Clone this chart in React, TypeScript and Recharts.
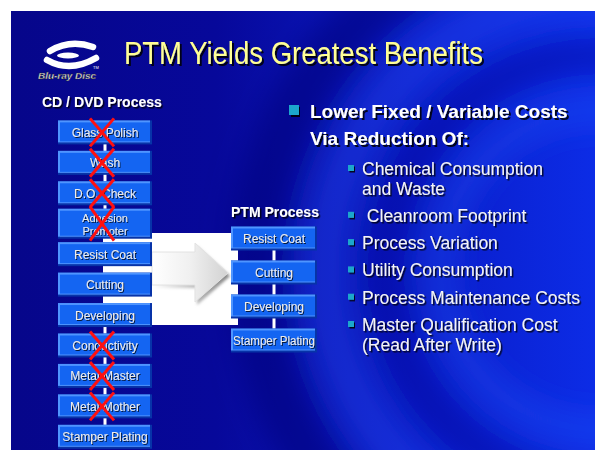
import React from 'react';
import { ScatterChart, Scatter, XAxis, YAxis } from 'recharts';

const W = 595;
const H = 450;

// process steps, top to bottom
const cdSteps = ['Glass Polish', 'Wash', 'D.O. Check', 'Adhesion\nPromoter', 'Resist Coat', 'Cutting', 'Developing', 'Conductivity', 'Metal Master', 'Metal Mother', 'Stamper Plating'];
const cdRemoved = [true, true, true, true, false, false, false, true, true, true, false];
const ptmSteps = ['Resist Coat', 'Cutting', 'Developing', 'Stamper Plating'];

const title = 'PTM Yields Greatest Benefits';
const columnTitles = ['CD / DVD Process', 'PTM Process'];
const mainPoint = ['Lower Fixed / Variable Costs', 'Via Reduction Of:'];
const reductions = ['Chemical Consumption\nand Waste', ' Cleanroom Footprint', 'Process Variation', 'Utility Consumption', 'Process Maintenance Costs', 'Master Qualification Cost\n(Read After Write)'];

const cdData = cdSteps.map((label, i) => ({ col: 0, step: i, label, removed: cdRemoved[i] }));
const ptmData = ptmSteps.map((label, i) => ({ col: 1, step: i, label, removed: false }));

const SANS = '"Liberation Sans", Arial, sans-serif';

const makeBox = (w: number) => (props: any) => {
  const { cx, cy, payload } = props;
  const lines: string[] = payload.label.split('\n');
  const two = lines.length > 1;
  const h = two ? 30 : 24;
  const x = cx - w / 2;
  const y = cy - h / 2;
  return (
    <g>
      <rect x={x} y={y} width={w} height={h} fill="#0733a8" />
      <rect x={x} y={y} width={w - 2} height={h - 2} fill="#4f95ff" />
      <rect x={x + 2} y={y + 2} width={w - 4} height={h - 5} fill="#1465f2" />
      {lines.map((ln, k) => {
        const ty = cy + (k - (lines.length - 1) / 2) * 12.8 + 0.5;
        return (
          <text key={k} x={cx} y={ty} dominantBaseline="central" textAnchor="middle" fontFamily={SANS} fontSize={two ? 11 : 12}
            fill="#ececec" filter="url(#boxShadow)" textLength={ln.length > 13 && w < 90 ? 82 : undefined} lengthAdjust="spacingAndGlyphs">
            {ln}
          </text>
        );
      })}
      {payload.removed && (
        <g stroke="#ff1010" strokeWidth={3}>
          <line x1={cx - 15} y1={y - 2} x2={cx + 9} y2={y + h + 2} />
          <line x1={cx + 9} y1={y - 2} x2={cx - 15} y2={y + h + 2} />
        </g>
      )}
    </g>
  );
};

const cdBox = makeBox(94);
const ptmBox = makeBox(86);

const arrowPts = '152,252 195,252 195,243 228,273 195,302 195,285 152,285';

const Slide = () => {
  // baselines for the reduction list
  let yy = 175;
  const rows: { text: string; y: number; bullet: boolean }[] = [];
  reductions.forEach((r) => {
    r.split('\n').forEach((ln, k) => {
      rows.push({ text: ln, y: yy + k * 19.5, bullet: k === 0 });
    });
    yy += (r.split('\n').length - 1) * 19.5 + 27.3;
  });

  return (
    <svg width={W} height={H} style={{ position: 'absolute', left: 0, top: 0 }}>
      <defs>
        <linearGradient id="bg" x1="0" x2="1" y1="0" y2="0">
          <stop offset="0" stopColor="#06068a" />
          <stop offset="0.35" stopColor="#07089a" />
          <stop offset="0.7" stopColor="#0a1cc8" />
          <stop offset="1" stopColor="#0c2ce6" />
        </linearGradient>
        <linearGradient id="arrowFill" x1="0" x2="1" y1="0" y2="0">
          <stop offset="0" stopColor="#ffffff" />
          <stop offset="0.5" stopColor="#f0f0f0" />
          <stop offset="1" stopColor="#d2d2d2" />
        </linearGradient>
        <linearGradient id="arrowShadow" x1="0" x2="1" y1="0" y2="0">
          <stop offset="0" stopColor="#ffffff" />
          <stop offset="1" stopColor="#808080" />
        </linearGradient>
        <filter id="soft" x="-50%" y="-50%" width="200%" height="200%">
          <feGaussianBlur stdDeviation="14" />
        </filter>
        <filter id="blur2">
          <feGaussianBlur stdDeviation="1.8" />
        </filter>
        <filter id="textShadow" x="-5%" y="-20%" width="115%" height="150%">
          <feDropShadow dx="2" dy="2" stdDeviation="0.3" floodColor="#000" floodOpacity="0.85" />
        </filter>
        <filter id="smallShadow" x="-5%" y="-20%" width="115%" height="150%">
          <feDropShadow dx="1.5" dy="1.5" stdDeviation="0.2" floodColor="#000" floodOpacity="0.85" />
        </filter>
        <clipPath id="slideClip">
          <rect x={11} y={11} width={584} height={439} />
        </clipPath>
      </defs>

      <rect x={0} y={0} width={W} height={H} fill="#fff" />
      <g clipPath="url(#slideClip)">
        <rect x={11} y={11} width={584} height={439} fill="url(#bg)" />
        <g filter="url(#soft)" fill="none">
          <circle cx={600} cy={270} r={345} stroke="#05057a" strokeWidth={55} opacity={0.55} />
          <circle cx={600} cy={270} r={275} stroke="#2a55ff" strokeWidth={45} opacity={0.35} />
          <circle cx={600} cy={270} r={215} stroke="#050a90" strokeWidth={35} opacity={0.4} />
          <circle cx={600} cy={270} r={160} stroke="#2a60ff" strokeWidth={30} opacity={0.3} />
        </g>
      </g>

      {/* logo */}
      <g>
        <path d="M50 51 Q70 39 93 47" stroke="#fff" strokeWidth={6.5} fill="none" strokeLinecap="round" />
        <path d="M47 60 Q70 73 96 58" stroke="#fff" strokeWidth={6.5} fill="none" strokeLinecap="round" />
        <ellipse cx={68} cy={55.5} rx={11} ry={3} fill="#fff" />
        <text x={38} y={79} fontFamily={SANS} fontSize={9} fontWeight="bold" fontStyle="italic" fill="#fff" stroke="#222" strokeWidth={0.4} textLength={58} lengthAdjust="spacingAndGlyphs">Blu-ray Disc</text>
        <text x={93} y={69} fontFamily={SANS} fontSize={4} fill="#fff">TM</text>
      </g>

      <text x={124} y={64} fill="#ffff96" fontFamily={SANS} fontSize={31} textLength={359} lengthAdjust="spacingAndGlyphs" filter="url(#textShadow)">
        {title}
      </text>

      <text x={42} y={107} fill="#fff" fontFamily={SANS} fontSize={14} fontWeight="bold" filter="url(#smallShadow)">{columnTitles[0]}</text>
      <text x={231} y={217} fill="#fff" fontFamily={SANS} fontSize={14} fontWeight="bold" filter="url(#smallShadow)">{columnTitles[1]}</text>

      {/* white panel and arrow */}
      <rect x={103} y={233} width={135} height={92} fill="#fff" />
      <polygon points={arrowPts} transform="translate(2,3)" fill="url(#arrowShadow)" filter="url(#blur2)" />
      <polygon points={arrowPts} fill="url(#arrowFill)" stroke="#e2e2e2" strokeWidth={1} />

      {/* main bullet */}
      <rect x={289} y={105} width={10} height={10} fill="#1ea6cc" filter="url(#textShadow)" />
      <text x={310} y={118} fill="#fff" fontFamily={SANS} fontSize={19} fontWeight="bold" filter="url(#textShadow)">{mainPoint[0]}</text>
      <text x={310} y={145} fill="#fff" fontFamily={SANS} fontSize={19} fontWeight="bold" filter="url(#textShadow)">{mainPoint[1]}</text>

      {rows.map((r, i) => (
        <g key={i}>
          {r.bullet && <rect x={348} y={r.y - 10} width={6} height={6} fill="#1ea6cc" filter="url(#smallShadow)" />}
          <text x={362} y={r.y} fill="#f4f4f4" fontFamily={SANS} fontSize={17.5} filter="url(#smallShadow)" style={{ whiteSpace: 'pre' }}>
            {r.text}
          </text>
        </g>
      ))}
    </svg>
  );
};

export default function App() {
  return (
    <div style={{ position: 'absolute', left: 0, top: 0, width: W, height: H, background: '#fff' }}>
      <Slide />
      <svg width={0} height={0} style={{ position: 'absolute' }}>
        <defs>
          <filter id="boxShadow" x="-5%" y="-20%" width="115%" height="150%">
            <feDropShadow dx="1" dy="1" stdDeviation="0.2" floodColor="#000" floodOpacity="0.75" />
          </filter>
        </defs>
      </svg>
      <div style={{ position: 'absolute', left: 0, top: 0 }}>
        <ScatterChart width={W} height={H} margin={{ top: 0, right: 0, bottom: 0, left: 0 }}>
          <XAxis xAxisId="x" type="number" dataKey="col" domain={[-0.6213, 2.8994]} hide allowDataOverflow />
          <YAxis yAxisId="cd" type="number" dataKey="step" domain={[-4.3495, 10.4337]} reversed hide allowDataOverflow />
          <YAxis yAxisId="ptm" type="number" dataKey="step" domain={[-7.0147, 6.2206]} reversed hide allowDataOverflow />
          <Scatter data={cdData} xAxisId="x" yAxisId="cd" line={{ stroke: '#ffffff', strokeWidth: 3 }} shape={cdBox} isAnimationActive={false} />
          <Scatter data={ptmData} xAxisId="x" yAxisId="ptm" line={{ stroke: '#ffffff', strokeWidth: 3 }} shape={ptmBox} isAnimationActive={false} />
        </ScatterChart>
      </div>
    </div>
  );
}
